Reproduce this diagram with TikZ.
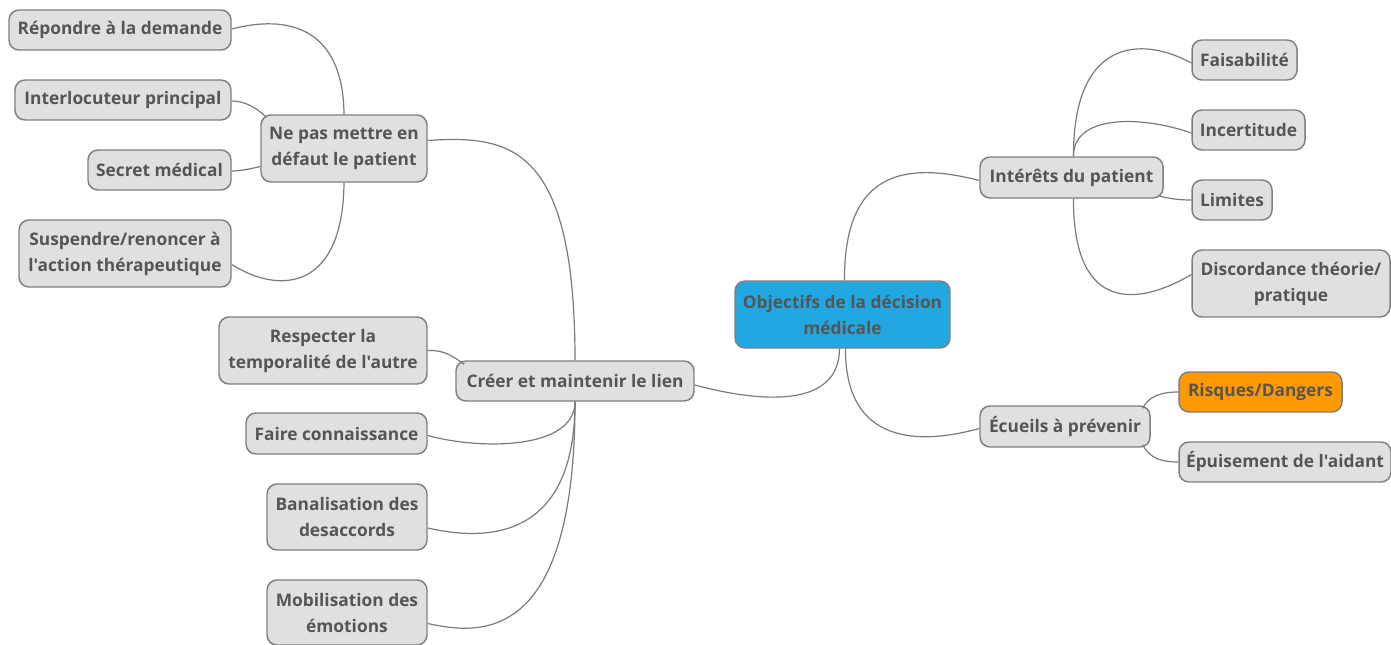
\documentclass[tikz,border=0pt]{standalone}
\usepackage{fontspec}
\setmainfont{Open Sans}[Ligatures=TeXOff]
\definecolor{boxfill}{HTML}{E0E0E0}
\definecolor{boxline}{HTML}{7F7F7F}
\definecolor{txt}{HTML}{555555}
\definecolor{rootblue}{HTML}{22A7E0}
\definecolor{orange}{HTML}{FF9900}
\definecolor{link}{HTML}{7A7A7A}
\begin{document}
\begin{tikzpicture}[x=0.75pt,y=-0.75pt,
  box/.style={draw=boxline,fill=boxfill,line width=1.1pt,rounded corners=7.5pt,
    text=txt,font=\fontsize{13}{19.5}\selectfont\bfseries,align=center,inner sep=0pt},
  sz/.style 2 args={minimum width=#1*0.75pt,minimum height=#2*0.75pt},
  link/.style={draw=link,line width=0.9pt}]
\useasboundingbox (0,0) rectangle (1391,645);
% nodes
\node[box,sz={222}{40}] (rep) at (120,30) {Répondre à la demande};
\node[box,sz={216}{40}] (int) at (123,100) {Interlocuteur principal};
\node[box,sz={143}{40}] (sec) at (159.5,170) {Secret médical};
\node[box,sz={212}{67}] (sus) at (125,253.5) {Suspendre/renoncer à\\l'action thérapeutique};
\node[box,sz={166}{67}] (np) at (344,148.5) {Ne pas mettre en\\défaut le patient};
\node[box,sz={208}{67}] (res) at (323,350.5) {Respecter la\\temporalité de l'autre};
\node[box,sz={181}{41}] (fai) at (336.5,433.5) {Faire connaissance};
\node[box,sz={160}{66}] (ban) at (347,517) {Banalisation des\\desaccords};
\node[box,sz={160}{65}] (mob) at (347,612.5) {Mobilisation des\\émotions};
\node[box,sz={238}{40}] (cre) at (575,381) {Créer et maintenir le lien};
\node[box,sz={215}{67},fill=rootblue] (root) at (842.5,314.5) {Objectifs de la décision\\médicale};
\node[box,sz={183}{41}] (ip) at (1071.5,177.5) {Intérêts du patient};
\node[box,sz={105}{40}] (fsb) at (1244.5,60) {Faisabilité};
\node[box,sz={113}{40}] (inc) at (1248.5,130) {Incertitude};
\node[box,sz={80}{40}] (lim) at (1232,200) {Limites};
\node[box,sz={198}{67}] (dis) at (1291,283.5) {Discordance théorie/\\pratique};
\node[box,sz={170}{41}] (ecu) at (1065,426.5) {Écueils à prévenir};
\node[box,sz={163}{40},fill=orange] (ris) at (1260.5,392) {Risques/Dangers};
\node[box,sz={212}{40}] (epu) at (1285,462) {Épuisement de l'aidant};
% connectors
\path[link] ([xshift=2*0.75pt]root.north) .. controls (844,175) and (900,160) .. ([shift={(0,3)}]ip.west);
\path[link] ([xshift=-3*0.75pt]root.south) .. controls (839,405) and (770,405) .. ([shift={(0,4)}]cre.east);
\path[link] ([xshift=3*0.75pt]root.south) .. controls (845,445) and (920,445) .. ([shift={(0,2)}]ecu.west);
\path[link] (cre.north) .. controls (575,145) and (510,135) .. ([shift={(0,-8)}]np.east);
\path[link] (np.north) .. controls (343,25) and (285,15) .. ([shift={(0,-1)}]rep.east);
\path[link] ([shift={(6,3)}]np.north west) .. controls (257,108) and (245,101) .. ([shift={(0,1)}]int.east);
\path[link] ([shift={(0,18)}]np.west) .. controls (250,169) and (240,171) .. ([shift={(0,1)}]sec.east);
\path[link] (np.south) .. controls (343,290) and (280,295) .. ([shift={(0,11)}]sus.east);
\path[link] ([shift={(9,4)}]cre.north west) .. controls (452,356) and (445,350) .. (res.east);
\path[link] (cre.south) .. controls (575,450) and (480,450) .. ([shift={(0,2)}]fai.east);
\path[link] (cre.south) .. controls (575,545) and (480,540) .. ([shift={(0,11)}]ban.east);
\path[link] (cre.south) .. controls (575,645) and (480,635) .. ([shift={(0,11)}]mob.east);
\path[link] ([xshift=2*0.75pt]ip.north) .. controls (1073,40) and (1140,35) .. ([shift={(0,3)}]fsb.west);
\path[link] ([xshift=2*0.75pt]ip.north) .. controls (1073,115) and (1140,115) .. ([shift={(0,3)}]inc.west);
\path[link] ([shift={(-5,-3)}]ip.south east) .. controls (1170,199) and (1180,200) .. (lim.west);
\path[link] ([xshift=2*0.75pt]ip.south) .. controls (1073,315) and (1140,305) .. ([shift={(0,-9)}]dis.west);
\path[link] ([shift={(-8,3)}]ecu.north east) .. controls (1148,397) and (1160,392) .. (ris.west);
\path[link] ([shift={(-8,-3)}]ecu.south east) .. controls (1150,460) and (1165,462) .. (epu.west);
\end{tikzpicture}
\end{document}
